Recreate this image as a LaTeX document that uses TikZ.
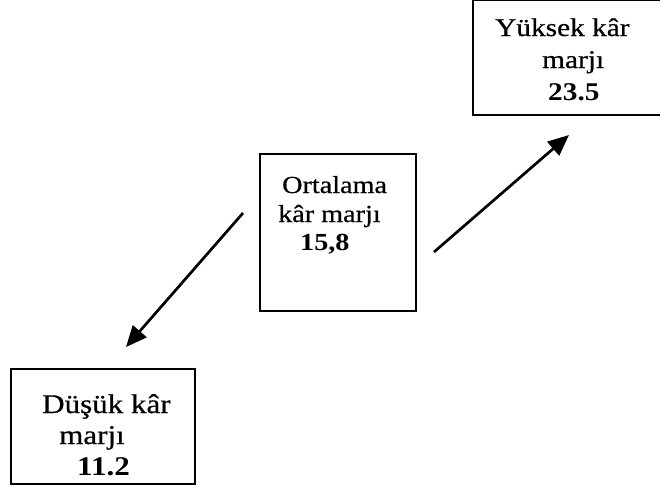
\documentclass[tikz,border=0pt]{standalone}
\usepackage{fontspec}
\setmainfont[FakeStretch=1.15, UprightFeatures={FakeBold=0.6}]{Liberation Serif}
\usetikzlibrary{arrows.meta}
\begin{document}
\begin{tikzpicture}[x=1pt,y=1pt,
  box/.style={draw=black, line width=1.5pt, inner sep=0pt, fill=none},
  txt/.style={anchor=base west, inner sep=0pt},
  midtext/.style={font=\fontsize{24.5}{28}\selectfont},
  hightext/.style={font=\fontsize{25.5}{30}\selectfont},
  lowtext/.style={font=\fontsize{27}{31}\selectfont},
  arr/.style={line width=2.7pt, -{Triangle[length=21pt,width=18pt]}}]
\useasboundingbox (0,0) rectangle (660,-490);

% boxes
\node[box, minimum width=184pt, minimum height=115pt] (low) at (103,-426.5) {};
\node[box, minimum width=156pt, minimum height=157pt] (mid) at (338,-232.5) {};
\node[box, minimum width=200pt, minimum height=115pt] (high) at (573,-57.5) {};

% middle box text
\node[txt, midtext] (m1) at (282,-193) {Ortalama};
\node[txt, midtext] (m2) at (278,-222) {kâr marjı};
\node[txt, midtext] (m3) at (300,-250.5) {\bfseries 15,8};

% high box text
\node[txt, hightext] (h1) at (495,-36) {Yüksek kâr};
\node[txt, hightext] (h2) at (542,-68) {marjı};
\node[txt, hightext] (h3) at (548,-100) {\bfseries 23.5};

% low box text
\node[txt, lowtext] (l1) at (42,-413) {Düşük kâr};
\node[txt, lowtext] (l2) at (59,-444) {marjı};
\node[txt, lowtext] (l3) at (77,-475) {\bfseries 11.2};

% arrow end points
\coordinate (dstart) at (243,-213);
\coordinate (dend) at (126,-347);
\coordinate (ustart) at (434,-252);
\coordinate (uend) at (569,-135);

\draw[arr] (dstart) -- (dend);
\draw[arr] (ustart) -- (uend);
\end{tikzpicture}
\end{document}
